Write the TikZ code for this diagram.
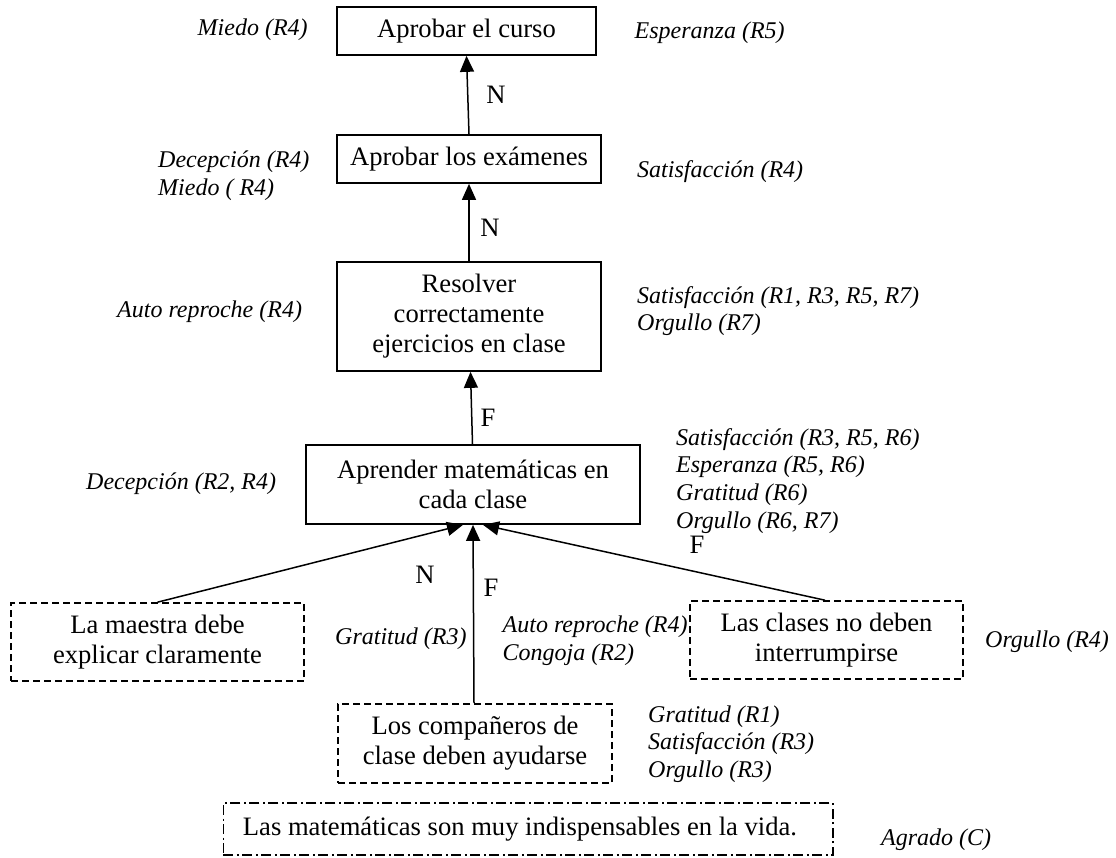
\documentclass[tikz,border=0pt]{standalone}
\usepackage{fontspec}
\setmainfont{Liberation Serif}
\usetikzlibrary{arrows.meta}
\begin{document}
\begin{tikzpicture}[x=1pt,y=-1pt,
  goal/.style={draw, line width=1.7pt, inner sep=0pt, align=center,
    font=\fontsize{26.6}{30}\selectfont},
  belief/.style={goal, line width=1.6pt, dash pattern=on 7pt off 4pt},
  value/.style={goal, line width=1.5pt, dash pattern=on 10pt off 3.5pt on 2pt off 3.5pt},
  emo/.style={inner sep=0pt, anchor=west, align=left,
    font=\fontsize{24}{27.6}\selectfont\itshape},
  tag/.style={inner sep=0pt, font=\fontsize{26.6}{30}\selectfont},
  link/.style={line width=1.5pt, -{Triangle[length=16pt,width=14pt]}}
]
\path[use as bounding box] (0,0) rectangle (1116,857);

% goal hierarchy
\node[goal, minimum width=259pt, minimum height=48pt] (curso) at (466.5,31) {Aprobar el curso};
\node[goal, minimum width=264pt, minimum height=48pt] (examenes) at (469,159) {Aprobar los exámenes};
\node[goal, minimum width=264pt, minimum height=109pt] (ejercicios) at (469,316.5)
  {Resolver\\correctamente\\ejercicios en clase};
\node[goal, minimum width=334pt, minimum height=79pt] (aprender) at (473,484.5)
  {Aprender matemáticas en\\cada clase};

% beliefs
\node[belief, minimum width=293pt, minimum height=78pt] (maestra) at (157.5,642)
  {La maestra debe\\explicar claramente};
\node[belief, minimum width=273pt, minimum height=78pt] (clases) at (826.5,640)
  {Las clases no deben\\interrumpirse};
\node[belief, minimum width=274pt, minimum height=79pt] (companeros) at (475,743.5)
  {Los compañeros de\\clase deben ayudarse};
\node[value, minimum width=609.5pt, minimum height=52pt]
  (vida) at (528,829) {Las matemáticas son muy indispensables en la vida.\hspace*{16pt}};

% connectors
\draw[link] (examenes.north) -- (curso.south);
\draw[link] (ejercicios.north) -- (examenes.south);
\draw[link] ([xshift=-0.5pt]aprender.north) -- ([xshift=1.5pt]ejercicios.south);
\draw[link] (maestra.north) -- ([xshift=-10pt]aprender.south);
\draw[link] ([xshift=-1pt]companeros.north) -- (aprender.south);
\draw[link] ([xshift=-1.5pt]clases.north) -- ([xshift=10pt]aprender.south);

% connector labels
\node[tag] (n1) at (496,95) {N};
\node[tag] (n2) at (490,228) {N};
\node[tag] (f1) at (488,418) {F};
\node[tag] (f2) at (697,545) {F};
\node[tag] (n3) at (425,575) {N};
\node[tag] (f3) at (491,588) {F};

% emotions
\node[emo] (e1l) at (197.5,30) {Miedo (R4)};
\node[emo] (e1r) at (634.5,33) {Esperanza (R5)};
\node[emo] (e2l) at (158,175.5) {Decepción (R4)\\Miedo ( R4)};
\node[emo] (e2r) at (637,172) {Satisfacción (R4)};
\node[emo] (e3l) at (117,312) {Auto reproche (R4)};
\node[emo] (e3r) at (637,311) {Satisfacción (R1, R3, R5, R7)\\Orgullo (R7)};
\node[emo] (e4l) at (86,484) {Decepción (R2, R4)};
\node[emo, font=\fontsize{24}{27.9}\selectfont\itshape] (e4r) at (676,481)
  {Satisfacción (R3, R5, R6)\\Esperanza (R5, R6)\\Gratitud (R6)\\Orgullo (R6, R7)};
\node[emo] (e5a) at (335,639) {Gratitud (R3)};
\node[emo] (e5b) at (502.5,641) {Auto reproche (R4)\\Congoja (R2)};
\node[emo] (e5c) at (985,642) {Orgullo (R4)};
\node[emo] (e6) at (648,744) {Gratitud (R1)\\Satisfacción (R3)\\Orgullo (R3)};
\node[emo] (e7) at (881,840) {Agrado (C)};
\end{tikzpicture}
\end{document}
